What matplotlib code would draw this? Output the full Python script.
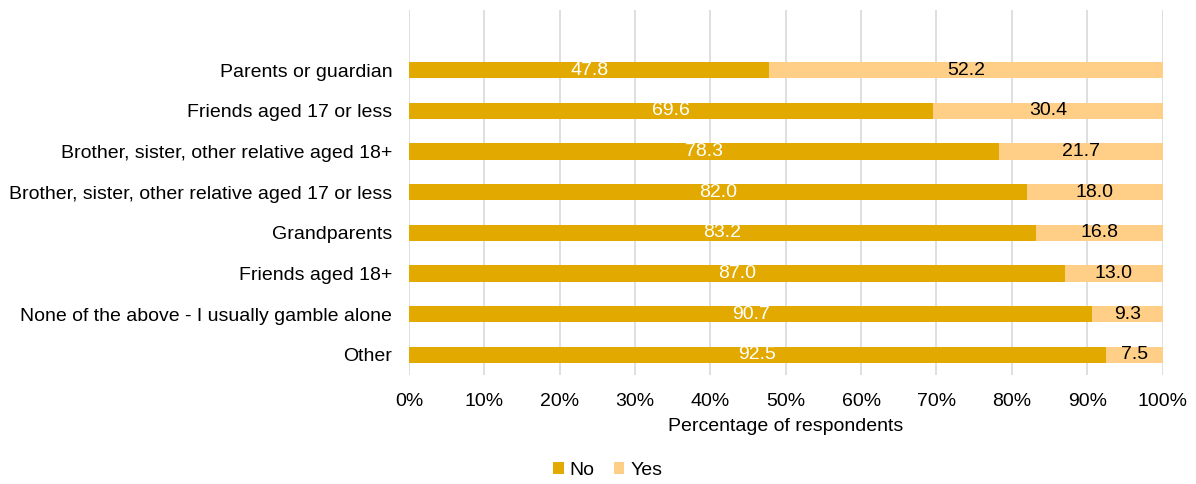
import numpy as np
import matplotlib
matplotlib.use("Agg")
import matplotlib.pyplot as plt
from matplotlib.ticker import PercentFormatter

plt.rcParams['font.family'] = ['Liberation Sans', 'DejaVu Sans']

categories = ["Parents or guardian", "Friends aged 17 or less",
              "Brother, sister, other relative aged 18+",
              "Brother, sister, other relative aged 17 or less",
              "Grandparents", "Friends aged 18+",
              "None of the above - I usually gamble alone", "Other"]
no_vals = [47.8, 69.6, 78.3, 82.0, 83.2, 87.0, 90.7, 92.5]
yes_vals = [52.2, 30.4, 21.7, 18.0, 16.8, 13.0, 9.3, 7.5]

c_no = "#E2A900"
c_yes = "#FFCF87"
fs = 14

fig = plt.figure(figsize=(11.96, 4.84), dpi=100)
ax = fig.add_axes([0.342, 0.225, 0.630, 0.754])

y = np.arange(len(categories))
h = 0.4
b1 = ax.barh(y, no_vals, height=h, color=c_no, label="No", zorder=3)
b2 = ax.barh(y, yes_vals, left=no_vals, height=h, color=c_yes, label="Yes", zorder=3)

for i in range(len(categories)):
    ax.text(no_vals[i] / 2, y[i], f"{no_vals[i]:.1f}", ha="center", va="center",
            color="white", fontsize=fs, zorder=4)
    ax.text(no_vals[i] + yes_vals[i] / 2, y[i], f"{yes_vals[i]:.1f}", ha="center",
            va="center", color="black", fontsize=fs, zorder=4)

ax.set_xlim(0, 100)
ax.set_ylim(7.5, -1.48)
ax.set_yticks(y)
ax.set_yticklabels(categories, fontsize=fs)
ax.set_xticks(np.arange(0, 101, 10))
ax.xaxis.set_major_formatter(PercentFormatter(decimals=0))
ax.tick_params(axis="x", labelsize=fs, length=0, pad=13)
ax.tick_params(axis="y", length=0, pad=12)
ax.grid(axis="x", color="#D9D9D9", linewidth=1.2, zorder=0)
for s in ax.spines.values():
    s.set_visible(False)
ax.set_xlabel("Percentage of respondents", fontsize=fs, labelpad=6)

fig.legend(handles=[b1, b2], loc="center", bbox_to_anchor=(0.508, 0.028), ncol=2,
           frameon=False, fontsize=fs, handlelength=0.55, handleheight=0.55,
           handletextpad=0.3, columnspacing=1.0)

fig.savefig("out.png", dpi=100)
